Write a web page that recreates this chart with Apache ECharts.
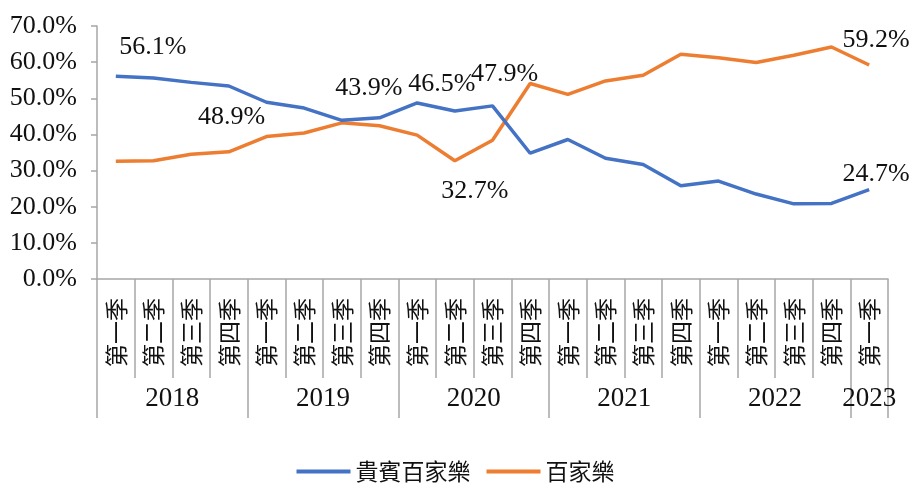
<!DOCTYPE html>
<html>
<head>
<meta charset="utf-8">
<script src="https://cdn.jsdelivr.net/npm/echarts@6/dist/echarts.min.js"></script>
<style>
	html, body { margin: 0; padding: 0; background: #fff; }
	#chart { width: 911px; height: 483px; }
</style>
</head>
<body>
<div id="chart"></div>
<script>
( function() {

	const quarters = [
		'第一季', '第二季', '第三季', '第四季',
		'第一季', '第二季', '第三季', '第四季',
		'第一季', '第二季', '第三季', '第四季',
		'第一季', '第二季', '第三季', '第四季',
		'第一季', '第二季', '第三季', '第四季',
		'第一季'
	];
	const years = ['2018', '2019', '2020', '2021', '2022', '2023'];
	const yearSpans = [4, 4, 4, 4, 4, 1];

	const vipShare = [56.1, 55.6, 54.4, 53.4, 48.9, 47.3, 43.9, 44.6, 48.7, 46.5, 47.9,
		34.8, 38.6, 33.4, 31.7, 25.8, 27.1, 23.5, 20.8, 20.9, 24.7];
	const massShare = [32.6, 32.7, 34.5, 35.2, 39.4, 40.4, 43.2, 42.4, 39.8, 32.7, 38.4,
		54.1, 51.1, 54.8, 56.4, 62.2, 61.2, 59.9, 61.9, 64.2, 59.2];

	const yTicks = [0, 10, 20, 30, 40, 50, 60, 70];

	// which points carry a value label, and where it sits (offset from the point)
	const vipLabelSpots = { 0: [37, -29], 4: [-35, 15], 6: [27, -32], 9: [-13, -27], 10: [12, -32], 20: [7, -16] };
	const massLabelSpots = { 9: [20, 30], 20: [7, -25] };

	const serif = '"Liberation Serif", "DejaVu Serif", serif';
	const cjk = '"Noto Sans CJK TC", "Noto Sans CJK SC", sans-serif';
	const axisGray = '#a6a6a6';

	const pct = v => Number(v).toFixed(1) + '%';

	const withLabels = function( values, spots ) {
		return values.map(function( v, i ) {
			if( !spots[i] ) return v;
			return {
				value: v,
				label: {
					show: true,
					position: 'inside',
					offset: spots[i],
					formatter: p => pct(p.value),
					fontFamily: serif,
					fontSize: 26,
					color: '#111'
				}
			};
		});
	};

	// year group boundaries and centres on the second (value) axis
	const yearBounds = [0];
	const yearCenters = [];
	yearSpans.forEach(function( span ) {
		const start = yearBounds[yearBounds.length - 1];
		yearCenters.push(start + span / 2);
		yearBounds.push(start + span);
	});

	const option = {
		animation: false,
		backgroundColor: '#fff',
		grid: { left: 97, right: 23, top: 26, bottom: 204 },
		legend: {
			top: 460,
			left: 'center',
			icon: 'rect',
			itemWidth: 54,
			itemHeight: 4,
			itemGap: 16,
			padding: 0,
			textStyle: { fontFamily: cjk, fontSize: 23, color: '#111' },
			data: ['貴賓百家樂', '百家樂']
		},
		xAxis: [
			{
				type: 'category',
				data: quarters,
				boundaryGap: true,
				axisLine: { show: true, lineStyle: { color: axisGray, width: 1.5 } },
				axisTick: { show: true, interval: 0, length: 99, lineStyle: { color: axisGray, width: 1.5 } },
				axisLabel: {
					interval: 0,
					rotate: 90,
					margin: 19,
					fontFamily: cjk,
					fontSize: 23,
					color: '#111'
				},
				splitLine: { show: false }
			},
			{
				type: 'value',
				position: 'bottom',
				min: 0,
				max: quarters.length,
				axisLine: { show: false },
				axisTick: { show: true, customValues: yearBounds, length: 139, lineStyle: { color: axisGray, width: 1.5 } },
				axisLabel: {
					customValues: yearCenters,
					margin: 106,
					fontFamily: serif,
					fontSize: 27,
					color: '#111',
					formatter: function( v ) {
						const i = yearCenters.indexOf(v);
						return i >= 0 ? years[i] : '';
					}
				},
				splitLine: { show: false }
			}
		],
		yAxis: {
			type: 'value',
			min: yTicks[0],
			max: yTicks[yTicks.length - 1],
			interval: yTicks[1] - yTicks[0],
			axisLine: { show: true, lineStyle: { color: axisGray, width: 1.5 } },
			axisTick: { show: true, length: 6, lineStyle: { color: axisGray, width: 1.5 } },
			axisLabel: {
				margin: 20,
				formatter: pct,
				fontFamily: serif,
				fontSize: 26,
				color: '#111'
			},
			splitLine: { show: false }
		},
		series: [
			{
				name: '貴賓百家樂',
				type: 'line',
				data: withLabels(vipShare, vipLabelSpots),
				symbol: 'circle',
				symbolSize: 0.1,
				showSymbol: true,
				color: '#4472C4',
				lineStyle: { width: 3.5, color: '#4472C4' },
				label: { show: false },
				emphasis: { disabled: true },
				silent: true,
				z: 3
			},
			{
				name: '百家樂',
				type: 'line',
				data: withLabels(massShare, massLabelSpots),
				symbol: 'circle',
				symbolSize: 0.1,
				showSymbol: true,
				color: '#ED7D31',
				lineStyle: { width: 3.5, color: '#ED7D31' },
				label: { show: false },
				emphasis: { disabled: true },
				silent: true,
				z: 2
			}
		]
	};

	document.addEventListener('DOMContentLoaded', function() {
		const myChart = echarts.init(document.getElementById('chart'), null, { renderer: 'canvas' });
		myChart.setOption(option);
	});

}() );
</script>
</body>
</html>
